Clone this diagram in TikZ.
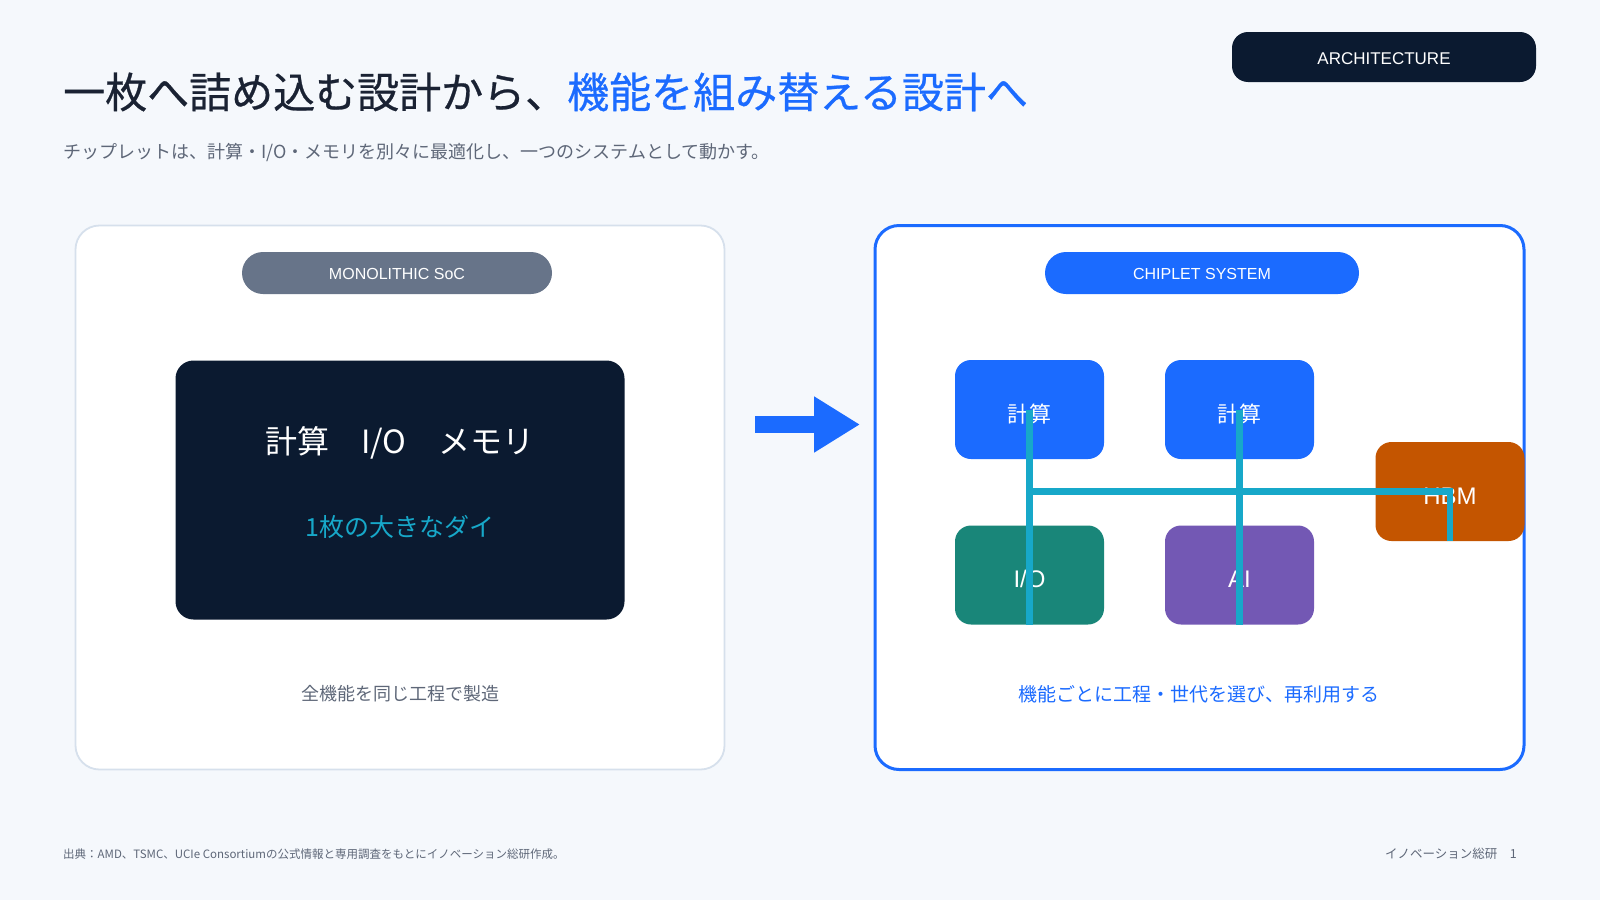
\documentclass[tikz,border=0pt]{standalone}
\usepackage{fontspec}
\setmainfont{Noto Sans CJK JP}
\newfontfamily\tagfont{Liberation Sans}
\newfontfamily\headfont{Noto Sans CJK JP}[FakeBold=0.6]
\usetikzlibrary{arrows.meta, positioning, calc}

\definecolor{pagebg}{HTML}{F5F8FC}
\definecolor{navy}{HTML}{0B1A30}
\definecolor{accent}{HTML}{1B6BFF}
\definecolor{slate}{HTML}{677489}
\definecolor{buscol}{HTML}{17A8C9}
\definecolor{tealchip}{HTML}{198679}
\definecolor{purplechip}{HTML}{7358B4}
\definecolor{hbmchip}{HTML}{C45500}
\definecolor{inktext}{HTML}{1A2233}
\definecolor{graytext}{HTML}{5E6778}
\definecolor{panelline}{HTML}{D6E0EC}

\newcommand{\fsz}[1]{\fontsize{#1}{#1}\selectfont}

\begin{document}
\begin{tikzpicture}[x=1pt, y=-1pt, every node/.style={inner sep=0pt},
    panel/.style={fill=white, rounded corners=24pt, minimum width=649pt, minimum height=544pt},
    pill/.style={rounded corners=21pt, minimum width=310pt, minimum height=42pt, text=white, font=\tagfont\fsz{16}, text height=13pt, text depth=0pt},
    chip/.style={rounded corners=16pt, minimum width=149pt, minimum height=99pt, text=white, font=\fsz{22}, text height=25pt, text depth=0pt},
    bus/.style={draw=buscol, line width=6.5pt},
    bigarrow/.style={draw=accent, line width=17pt, -{Triangle[length=46pt, width=53pt]}}]
    \useasboundingbox (0,0) rectangle (1600,900);
    \fill[pagebg] (0,0) rectangle (1600,900);

    % heading
    \node[anchor=west, font=\headfont\fsz{42}] (title) at (63,92) {{\color{inktext}一枚へ詰め込む設計から、}{\color{accent}機能を組み替える設計へ}};
    \node[anchor=west, font=\fsz{18}, text=graytext] (lead) at (63,153) {チップレットは、計算・I/O・メモリを別々に最適化し、一つのシステムとして動かす。};
    \node[pill, fill=navy, rounded corners=16pt, minimum width=304pt, minimum height=50pt, font=\tagfont\fsz{17}, text height=14pt] (tag) at (1384,57) {ARCHITECTURE};

    % monolithic side
    \node[panel, draw=panelline, line width=1.8pt] (mono) at (400,497.5) {};
    \node[pill, fill=slate] (monotag) at (397,273) {MONOLITHIC SoC};
    \node[fill=navy, rounded corners=18pt, minimum width=449pt, minimum height=259pt] (die) at (400,490) {};
    \node[text=white, font=\fsz{32}] (dieparts) at (400,443) {計算　I/O　メモリ};
    \node[text=buscol, font=\fsz{25}] (dielabel) at (400,526.5) {1枚の大きなダイ};
    \node[text=graytext, font=\fsz{18}] (monocap) at (400,694) {全機能を同じ工程で製造};

    % arrow
    \coordinate (a0) at (755,424.5);
    \coordinate (a1) at (860,424.5);
    \draw[bigarrow] (a0) -- (a1);

    % chiplet side
    \node[panel, draw=accent, line width=3pt] (chiplet) at (1199.5,497.5) {};
    \node[pill, fill=accent, minimum width=314pt] (chiptag) at (1202,273) {CHIPLET SYSTEM};
    \node[chip, fill=accent] (c1) at (1029.5,409.5) {計算};
    \node[chip, fill=accent] (c2) at (1239.5,409.5) {計算};
    \node[chip, fill=tealchip, font=\tagfont\fsz{24}] (io) at (1029.5,575) {I/O};
    \node[chip, fill=purplechip, font=\tagfont\fsz{24}] (ai) at (1239.5,575) {AI};
    \node[chip, fill=hbmchip, font=\tagfont\fsz{24}] (hbm) at (1450,491.5) {HBM};
    \draw[bus] (c1.center) -- (io.south);
    \draw[bus] (c2.center) -- (ai.south);
    \draw[bus] (hbm.south) -- (hbm.center) -- (c1.center |- hbm.center);
    \node[text=accent, font=\fsz{19}] (chipcap) at (1199,694) {機能ごとに工程・世代を選び、再利用する};

    % footer
    \node[anchor=west, text=graytext, font=\fsz{11.5}] (source) at (63,854) {出典：AMD、TSMC、UCIe Consortiumの公式情報と専用調査をもとにイノベーション総研作成。};
    \node[anchor=east, text=graytext, font=\fsz{12.5}] (page) at (1517,854) {イノベーション総研　1};
\end{tikzpicture}
\end{document}
